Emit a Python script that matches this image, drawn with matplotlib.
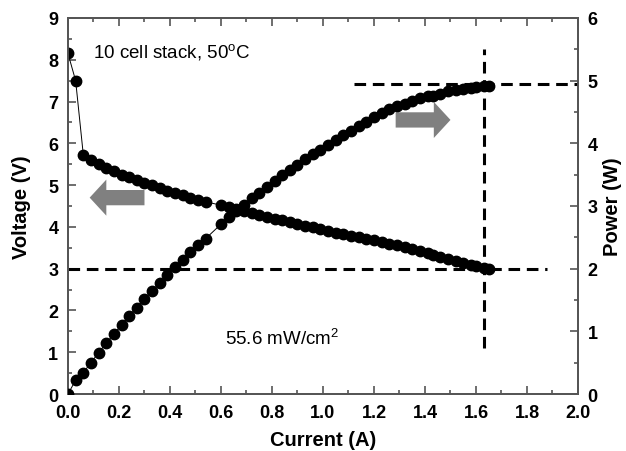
import matplotlib
matplotlib.use('Agg')
import matplotlib.pyplot as plt
from matplotlib.ticker import MultipleLocator

plt.rcParams['font.family'] = ['Liberation Sans', 'DejaVu Sans']
plt.rcParams['mathtext.fontset'] = 'custom'
plt.rcParams['mathtext.rm'] = 'Liberation Sans'

# current (A)
current = [0.00, 0.03, 0.06, 0.09, 0.12, 0.15, 0.18, 0.21, 0.24, 0.27,
           0.30, 0.33, 0.36, 0.39, 0.42, 0.45, 0.48, 0.51, 0.54,
           0.60, 0.63, 0.66, 0.69, 0.72, 0.75, 0.78, 0.81, 0.84, 0.87,
           0.90, 0.93, 0.96, 0.99, 1.02, 1.05, 1.08, 1.11, 1.14, 1.17,
           1.20, 1.23, 1.26, 1.29, 1.32, 1.35, 1.38, 1.41, 1.43, 1.46,
           1.49, 1.52, 1.55, 1.58, 1.60, 1.63, 1.65]
# stack voltage (V)
voltage = [8.15, 7.50, 5.73, 5.61, 5.51, 5.41, 5.33, 5.25, 5.19, 5.12,
           5.06, 5.00, 4.93, 4.87, 4.81, 4.76, 4.70, 4.65, 4.60,
           4.52, 4.47, 4.42, 4.37, 4.33, 4.28, 4.24, 4.20, 4.16, 4.11,
           4.07, 4.03, 3.99, 3.94, 3.90, 3.86, 3.82, 3.78, 3.75, 3.71,
           3.68, 3.65, 3.60, 3.56, 3.51, 3.47, 3.42, 3.37, 3.33, 3.28,
           3.24, 3.19, 3.14, 3.09, 3.06, 3.02, 2.98]
# stack power (W)
power = [0.00, 0.22, 0.34, 0.50, 0.66, 0.81, 0.96, 1.10, 1.25, 1.38,
         1.52, 1.65, 1.77, 1.90, 2.02, 2.14, 2.26, 2.37, 2.48,
         2.71, 2.82, 2.92, 3.02, 3.12, 3.21, 3.31, 3.40, 3.49, 3.58,
         3.66, 3.75, 3.83, 3.90, 3.98, 4.05, 4.13, 4.20, 4.28, 4.34,
         4.42, 4.49, 4.54, 4.59, 4.63, 4.68, 4.72, 4.75, 4.76, 4.79,
         4.83, 4.85, 4.87, 4.88, 4.90, 4.92, 4.92]

xtick_labels = ['0.0', '0.2', '0.4', '0.6', '0.8', '1.0', '1.2', '1.4',
                '1.6', '1.8', '2.0']

spine_col = '#555555'
dash = (3.8, 2.2)

fig = plt.figure(figsize=(6.26, 4.52), dpi=100)
ax = fig.add_axes([0.1086, 0.1261, 0.8147, 0.8319])
ax2 = ax.twinx()

ax.plot(current, voltage, color='black', lw=0.7, marker='o', ms=7.5, zorder=3)
ax2.plot(current, power, color='black', lw=0.7, marker='o', ms=7.5, zorder=3)

# guide lines
ax.plot([0.0, 1.88], [3.0, 3.0], color='black', lw=2.2, dashes=dash)
ax.plot([1.633, 1.633], [1.1, 8.25], color='black', lw=2.2, dashes=dash)
ax2.plot([1.12, 2.0], [4.94, 4.94], color='black', lw=2.2, dashes=dash)

# grey block arrows
arrow_style = 'simple,head_length=0.6,head_width=1.3,tail_width=0.55'
ax.annotate('', xy=(0.085, 4.70), xytext=(0.30, 4.70),
            arrowprops=dict(arrowstyle=arrow_style, fc='#808080', ec='none',
                            mutation_scale=20, shrinkA=0, shrinkB=0))
ax.annotate('', xy=(1.50, 6.56), xytext=(1.285, 6.56),
            arrowprops=dict(arrowstyle=arrow_style, fc='#808080', ec='none',
                            mutation_scale=20, shrinkA=0, shrinkB=0))

ax.text(0.10, 8.2, r'10 cell stack, 50$^{\rm o}$C', fontsize=13.5, va='center')
ax.text(0.615, 1.36, r'55.6 mW/cm$^{2}$', fontsize=13.5, va='center')

ax.set_xlim(0, 2.0)
ax.set_ylim(0, 9)
ax2.set_ylim(0, 6)

ax.set_xticks([0.0, 0.2, 0.4, 0.6, 0.8, 1.0, 1.2, 1.4, 1.6, 1.8, 2.0])
ax.set_xticklabels(xtick_labels)
ax.xaxis.set_minor_locator(MultipleLocator(0.1))
ax.yaxis.set_major_locator(MultipleLocator(1))
ax.yaxis.set_minor_locator(MultipleLocator(0.5))
ax2.yaxis.set_major_locator(MultipleLocator(1))
ax2.yaxis.set_minor_locator(MultipleLocator(0.5))

ax.tick_params(axis='x', which='both', direction='in', top=True, colors=spine_col,
               labelcolor='black', width=1.2, pad=7)
ax.tick_params(axis='y', which='both', direction='in', right=False,
               colors=spine_col, labelcolor='black', width=1.2, pad=7)
ax2.tick_params(axis='y', which='both', direction='in', colors=spine_col,
                labelcolor='black', width=1.2, pad=7)
for a in (ax, ax2):
    a.tick_params(which='major', length=6)
    a.tick_params(which='minor', length=3)
    for lab in a.get_xticklabels() + a.get_yticklabels():
        lab.set_fontweight('bold')
        lab.set_fontsize(13)
    for s in a.spines.values():
        s.set_color(spine_col)
        s.set_linewidth(1.3)

ax.set_xlabel('Current (A)', fontsize=14.5, fontweight='bold', labelpad=7)
ax.set_ylabel('Voltage (V)', fontsize=14.5, fontweight='bold', labelpad=12)
ax2.set_ylabel('Power (W)', fontsize=14.5, fontweight='bold', labelpad=4)

fig.savefig('out.png', dpi=100)
